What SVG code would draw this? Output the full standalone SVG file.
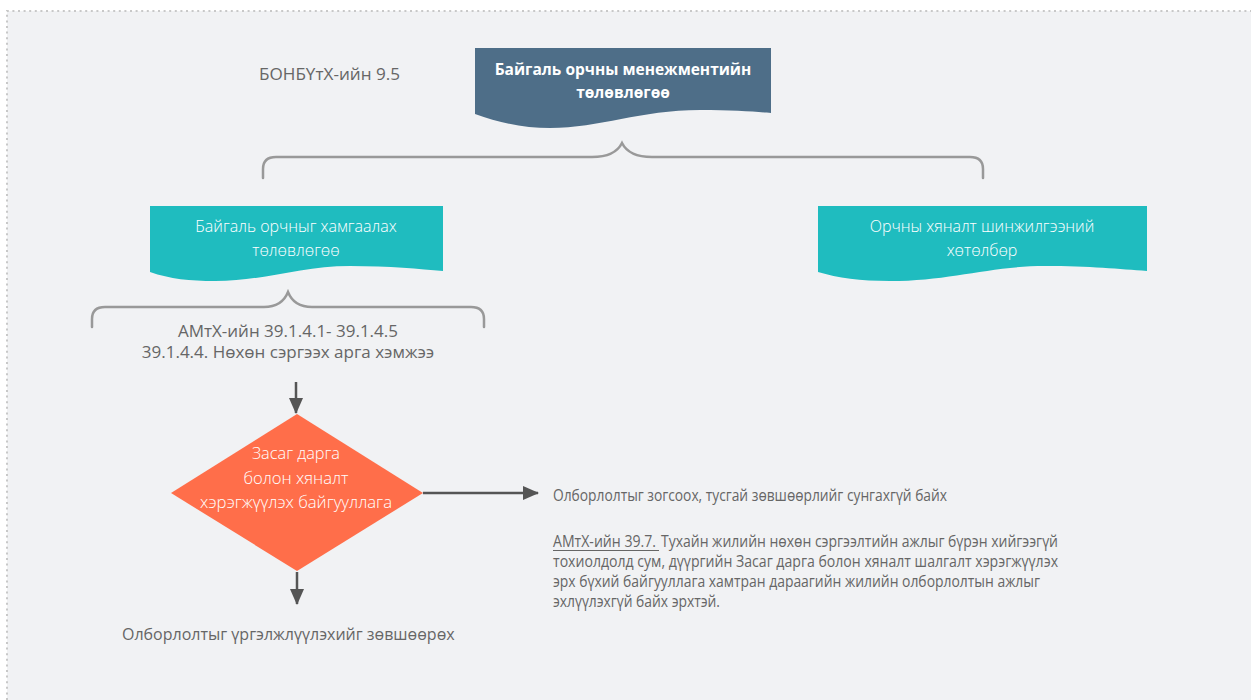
<svg xmlns="http://www.w3.org/2000/svg" width="1251" height="700" viewBox="0 0 1251 700">
<defs>
<style>
.t{font-family:"Open Sans","Noto Sans","Liberation Sans",sans-serif;}
.gray{fill:#666;font-size:16px;}
.g17{fill:#666;font-size:17px;}
.wl{fill:#fff;font-size:16px;font-weight:300;}
.brace{fill:none;stroke:#999;stroke-width:2.5;stroke-linecap:round;}
.conn{stroke:#555;stroke-width:2.5;fill:none;}
</style>
<marker id="ah" markerWidth="16" markerHeight="14" refX="15" refY="7" orient="auto" markerUnits="userSpaceOnUse">
<path d="M0,0 L16,7 L0,14 Z" fill="#555"/>
</marker>
</defs>
<rect x="0" y="0" width="1251" height="700" fill="#fff"/>
<rect x="7" y="11" width="1250" height="700" fill="#f1f2f4"/>
<path d="M7,700 V11 H1251" fill="none" stroke="#c8c8c8" stroke-width="2" stroke-dasharray="2 3.6"/>

<text class="t g17" x="259" y="80" textLength="141" lengthAdjust="spacingAndGlyphs">БОНБҮтХ-ийн 9.5</text>

<g id="node-emp">
<path d="M475,48 H771 V113 C760,112 735,110 700,110 C640,110 600,128 550,128 C525,128 500,123 475,114 Z" fill="#4e6e88"/>
<text class="t" x="623" y="75" text-anchor="middle" fill="#fff" font-size="15.5" font-weight="700">Байгаль орчны менежментийн</text>
<text class="t" x="623" y="98" text-anchor="middle" fill="#fff" font-size="15.5" font-weight="700">төлөвлөгөө</text>
</g>

<g id="brace-top">
<path class="brace" d="M263,178 V169 Q263,157 276,157 H592 Q615,157 622,143 Q629,157 652,157 H970 Q983,157 983,169 V178"/>
</g>

<g id="node-protect">
<path d="M150,206 H443 V271 C420,269 390,266 350,266 C300,266 265,281 215,281 C190,281 170,279 150,272 Z" fill="#1fbcbf"/>
<text class="t wl" x="296" y="232" text-anchor="middle" font-size="16.4">Байгаль орчныг хамгаалах</text>
<text class="t wl" x="296" y="256" text-anchor="middle" font-size="16.4">төлөвлөгөө</text>
</g>

<g id="node-monitor">
<path d="M818,206 H1147 V271 C1120,269 1090,266 1045,266 C990,266 950,281 890,281 C860,281 838,278 818,272 Z" fill="#1fbcbf"/>
<text class="t wl" x="982" y="232" text-anchor="middle" font-size="16.4">Орчны хяналт шинжилгээний</text>
<text class="t wl" x="982" y="256" text-anchor="middle" font-size="16.4">хөтөлбөр</text>
</g>

<g id="brace-left">
<path class="brace" d="M92,327 V319 Q92,307 105,307 H264 Q282,307 288,292 Q294,307 312,307 H471 Q484,307 484,319 V327"/>
</g>

<g id="label-amtx">
<text class="t g17" x="288" y="337" text-anchor="middle">АМтХ-ийн 39.1.4.1- 39.1.4.5</text>
<text class="t g17" x="288" y="358" text-anchor="middle">39.1.4.4. Нөхөн сэргээх арга хэмжээ</text>
</g>

<g id="node-decision">
<path d="M297,414 L423,493 L297,571 L171,493 Z" fill="#ff6e4a"/>
<text class="t wl" x="296" y="459" text-anchor="middle" textLength="88" lengthAdjust="spacingAndGlyphs">Засаг дарга</text>
<text class="t wl" x="296" y="484" text-anchor="middle" textLength="105" lengthAdjust="spacingAndGlyphs">болон хяналт</text>
<text class="t wl" x="296" y="508" text-anchor="middle" textLength="192" lengthAdjust="spacingAndGlyphs">хэрэгжүүлэх байгууллага</text>
</g>

<g id="connectors">
<line class="conn" x1="296" y1="382" x2="296" y2="413" marker-end="url(#ah)"/>
<line class="conn" x1="423" y1="493" x2="538" y2="493" marker-end="url(#ah)"/>
<line class="conn" x1="297" y1="572" x2="297" y2="604" marker-end="url(#ah)"/>
</g>

<g id="label-continue">
<text class="t gray" x="122" y="640">Олборлолтыг үргэлжлүүлэхийг зөвшөөрөх</text>
</g>

<g id="label-stop">
<text class="t gray" x="553" y="501" textLength="394" lengthAdjust="spacingAndGlyphs">Олборлолтыг зогсоох, тусгай зөвшөөрлийг сунгахгүй байх</text>
<text class="t gray" x="553" y="547" textLength="103" lengthAdjust="spacingAndGlyphs">АМтХ-ийн 39.7.</text>
<line x1="553" y1="550.5" x2="659" y2="550.5" stroke="#666" stroke-width="1"/>
<text class="t gray" x="661" y="547" textLength="397" lengthAdjust="spacingAndGlyphs">Тухайн жилийн нөхөн сэргээлтийн ажлыг бүрэн хийгээгүй</text>
<text class="t gray" x="553" y="567" textLength="505" lengthAdjust="spacingAndGlyphs">тохиолдолд сум, дүүргийн Засаг дарга болон хяналт шалгалт хэрэгжүүлэх</text>
<text class="t gray" x="553" y="587" textLength="487" lengthAdjust="spacingAndGlyphs">эрх бүхий байгууллага хамтран дараагийн жилийн олборлолтын ажлыг</text>
<text class="t gray" x="553" y="607" textLength="167" lengthAdjust="spacingAndGlyphs">эхлүүлэхгүй байх эрхтэй.</text>
</g>
</svg>
